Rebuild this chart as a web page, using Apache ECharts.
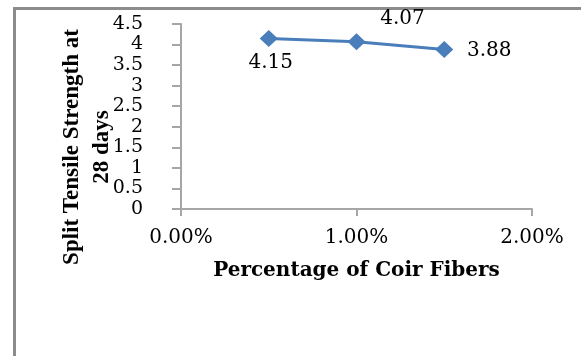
<!DOCTYPE html>
<html>
<head>
<meta charset="utf-8">
<script src="https://cdn.jsdelivr.net/npm/echarts@6/dist/echarts.min.js"></script>
<style>
  html, body { margin: 0; padding: 0; background: #fff; }
  #chart { width: 581px; height: 356px; }
</style>
</head>
<body>
<div id="chart"></div>
<script>
// Coir fibre content (fraction) and 28-day split tensile strength
const fiberContent = [0.005, 0.01, 0.015];
const splitStrength = [4.15, 4.07, 3.88];

// Axis settings
const xMin = 0, xMax = 0.02, xStep = 0.01;
const yMin = 0, yMax = 4.5, yStep = 0.5;

const xTitle = 'Percentage of Coir Fibers';
const yTitle = 'Split Tensile Strength at\n28 days';

// Where each value label sits relative to its marker
const labelOffsets = [[2, 24], [46, -23], [45, 1]];

const numFont = 'DejaVu Serif';
const axisGray = '#a6a6a6';

const chart = echarts.init(document.getElementById('chart'), null, { renderer: 'canvas' });

const seriesData = fiberContent.map((x, i) => ({
  value: [x, splitStrength[i]],
  label: { offset: labelOffsets[i] }
}));

chart.setOption({
  animation: false,
  backgroundColor: '#ffffff',
  graphic: [{
    type: 'rect',
    shape: { x: 14.5, y: 8.5, width: 700, height: 500 },
    style: { fill: 'none', stroke: '#8c8c8c', lineWidth: 3 },
    silent: true
  }, {
    // vertical axis title, two lines, rotated
    type: 'text',
    x: 87, y: 147,
    rotation: Math.PI / 2,
    style: {
      text: yTitle,
      fontFamily: 'Liberation Serif', fontWeight: 'bold', fontSize: 23,
      lineHeight: 30, fill: '#000',
      align: 'center', verticalAlign: 'middle'
    },
    silent: true
  }],
  grid: { left: 181, right: 49, top: 24, bottom: 147 },
  xAxis: {
    type: 'value',
    min: xMin, max: xMax, interval: xStep,
    name: xTitle,
    nameLocation: 'middle',
    nameGap: 52,
    nameTextStyle: { fontFamily: numFont, fontWeight: 'bold', fontSize: 20, color: '#000' },
    axisLine: { show: true, lineStyle: { color: axisGray, width: 2 } },
    axisTick: { show: true, length: 7, lineStyle: { color: axisGray, width: 2 } },
    splitLine: { show: false },
    axisLabel: {
      margin: 19,
      fontFamily: numFont, fontSize: 20, color: '#000',
      formatter: v => (v * 100).toFixed(2) + '%'
    }
  },
  yAxis: {
    type: 'value',
    min: yMin, max: yMax, interval: yStep,
    axisLine: { show: true, lineStyle: { color: axisGray, width: 2 } },
    axisTick: { show: true, length: 9, lineStyle: { color: axisGray, width: 2 } },
    splitLine: { show: false },
    axisLabel: {
      margin: 38,
      fontFamily: numFont, fontSize: 19, color: '#000',
      formatter: v => String(v)
    }
  },
  series: [{
    type: 'line',
    data: seriesData,
    symbol: 'diamond',
    symbolSize: [18, 17],
    lineStyle: { color: '#4a7ebb', width: 3 },
    itemStyle: { color: '#4a7ebb' },
    label: {
      show: true,
      position: 'inside',
      align: 'center',
      verticalAlign: 'middle',
      fontFamily: numFont, fontSize: 20, color: '#000',
      formatter: p => p.value[1].toFixed(2)
    }
  }]
});
</script>
</body>
</html>
